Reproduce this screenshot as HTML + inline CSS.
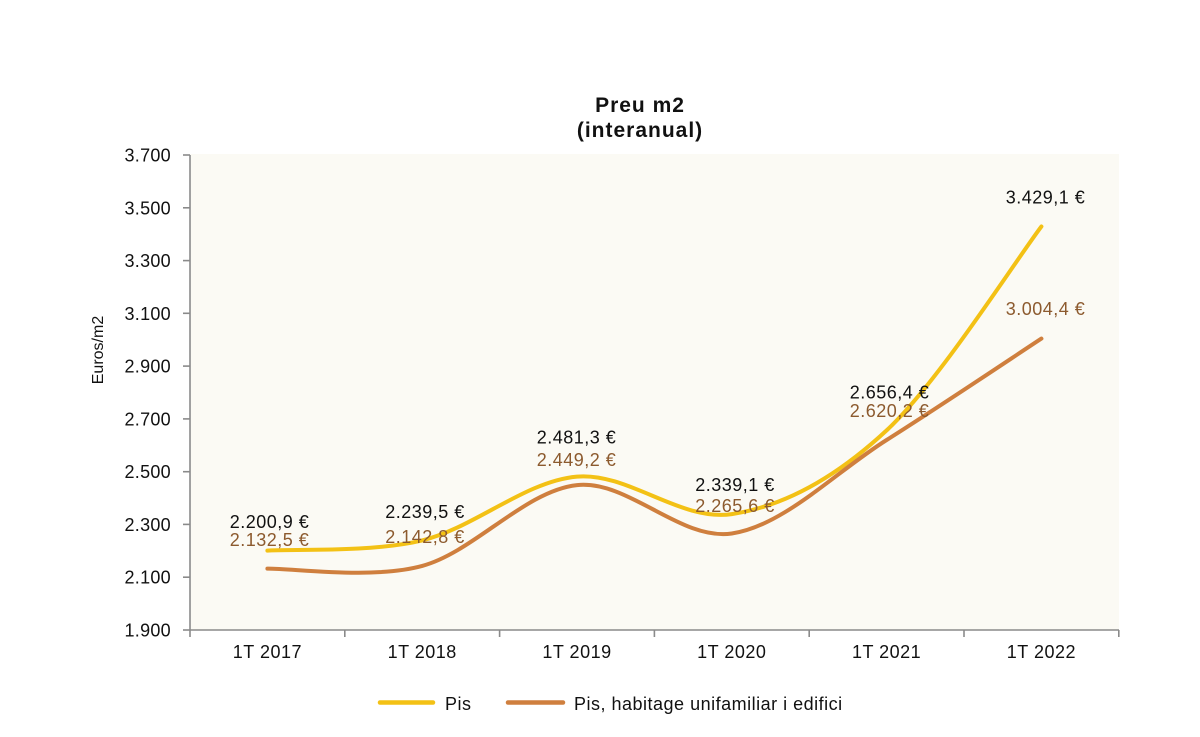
<!DOCTYPE html>
<html>
<head>
<meta charset="utf-8">
<style>
  html,body{margin:0;padding:0;background:#fff;}
  svg{display:block;}
  text{font-family:"Liberation Sans", Arial, sans-serif;}
</style>
</head>
<body>
<svg width="1200" height="737" viewBox="0 0 1200 737" xmlns="http://www.w3.org/2000/svg">
  <rect x="0" y="0" width="1200" height="737" fill="#ffffff"/>
  <!-- plot area -->
  <rect x="190" y="154" width="929" height="476" fill="#fbfaf4"/>

  <!-- title -->
  <text x="640" y="112" text-anchor="middle" font-size="21" font-weight="bold" letter-spacing="1" fill="#111">Preu m2</text>
  <text x="640" y="137" text-anchor="middle" font-size="21" font-weight="bold" letter-spacing="1" fill="#111">(interanual)</text>

  <!-- axes -->
  <g stroke="#8a8a8a" stroke-width="1.6" fill="none">
    <line x1="190" y1="155" x2="190" y2="630"/>
    <line x1="190" y1="630" x2="1119" y2="630"/>
    <!-- y ticks -->
    <line x1="183" y1="155" x2="190" y2="155"/>
    <line x1="183" y1="207.8" x2="190" y2="207.8"/>
    <line x1="183" y1="260.6" x2="190" y2="260.6"/>
    <line x1="183" y1="313.3" x2="190" y2="313.3"/>
    <line x1="183" y1="366.1" x2="190" y2="366.1"/>
    <line x1="183" y1="418.9" x2="190" y2="418.9"/>
    <line x1="183" y1="471.7" x2="190" y2="471.7"/>
    <line x1="183" y1="524.4" x2="190" y2="524.4"/>
    <line x1="183" y1="577.2" x2="190" y2="577.2"/>
    <line x1="183" y1="630" x2="190" y2="630"/>
    <!-- x ticks -->
    <line x1="190" y1="630" x2="190" y2="637"/>
    <line x1="344.8" y1="630" x2="344.8" y2="637"/>
    <line x1="499.6" y1="630" x2="499.6" y2="637"/>
    <line x1="654.4" y1="630" x2="654.4" y2="637"/>
    <line x1="809.2" y1="630" x2="809.2" y2="637"/>
    <line x1="964" y1="630" x2="964" y2="637"/>
    <line x1="1118.8" y1="630" x2="1118.8" y2="637"/>
  </g>

  <!-- y tick labels -->
  <g font-size="18" fill="#111" text-anchor="end" letter-spacing="0.3">
    <text x="171" y="161.5">3.700</text>
    <text x="171" y="214.3">3.500</text>
    <text x="171" y="267.1">3.300</text>
    <text x="171" y="319.8">3.100</text>
    <text x="171" y="372.6">2.900</text>
    <text x="171" y="425.4">2.700</text>
    <text x="171" y="478.2">2.500</text>
    <text x="171" y="530.9">2.300</text>
    <text x="171" y="583.7">2.100</text>
    <text x="171" y="636.5">1.900</text>
  </g>

  <!-- y axis title -->
  <text transform="translate(103,350) rotate(-90)" text-anchor="middle" font-size="16" fill="#111">Euros/m2</text>

  <!-- x labels -->
  <g font-size="18" fill="#111" text-anchor="middle" letter-spacing="0.5">
    <text x="267.4" y="658">1T 2017</text>
    <text x="422.2" y="658">1T 2018</text>
    <text x="577" y="658">1T 2019</text>
    <text x="731.8" y="658">1T 2020</text>
    <text x="886.6" y="658">1T 2021</text>
    <text x="1041.4" y="658">1T 2022</text>
  </g>

  <!-- series: Pis (yellow) -->
  <path d="M267.4,550.6 C293.2,548.9 370.6,552.73 422.2,540.4 C473.8,528.07 525.4,480.98 577,476.6 C628.6,472.22 680.2,521.8 731.8,514.1 C783.4,506.4 835,478.33 886.6,430.4 C938.2,382.47 1015.6,260.48 1041.4,226.5"
        fill="none" stroke="#f3c115" stroke-width="4" stroke-linecap="round" stroke-linejoin="round"/>
  <!-- series: Pis, habitage unifamiliar i edifici (brown) -->
  <path d="M267.4,568.6 C293.2,568.15 370.6,579.82 422.2,565.9 C473.8,551.98 525.4,490.5 577,485.1 C628.6,479.7 680.2,541.02 731.8,533.5 C783.4,525.98 835,472.48 886.6,440.0 C938.2,407.52 1015.6,355.5 1041.4,338.6"
        fill="none" stroke="#cf7f3e" stroke-width="4" stroke-linecap="round" stroke-linejoin="round"/>

  <!-- data labels -->
  <g font-size="18" text-anchor="middle" letter-spacing="0.5">
    <g fill="#111">
      <text x="269.5" y="528">2.200,9 €</text>
      <text x="425" y="518">2.239,5 €</text>
      <text x="576.5" y="443.5">2.481,3 €</text>
      <text x="735" y="491">2.339,1 €</text>
      <text x="889.5" y="398.5">2.656,4 €</text>
      <text x="1045.5" y="203.5">3.429,1 €</text>
    </g>
    <g fill="#8c5a2e">
      <text x="269.5" y="546">2.132,5 €</text>
      <text x="425" y="543">2.142,8 €</text>
      <text x="576.5" y="466">2.449,2 €</text>
      <text x="735" y="512">2.265,6 €</text>
      <text x="889.5" y="417">2.620,2 €</text>
      <text x="1045.5" y="315">3.004,4 €</text>
    </g>
  </g>

  <!-- legend -->
  <line x1="380" y1="702.5" x2="433" y2="702.5" stroke="#f3c115" stroke-width="4.5" stroke-linecap="round"/>
  <text x="445" y="710" font-size="18" fill="#111" letter-spacing="0.5">Pis</text>
  <line x1="508" y1="702.5" x2="563" y2="702.5" stroke="#cf7f3e" stroke-width="4.5" stroke-linecap="round"/>
  <text x="574" y="710" font-size="18" fill="#111" letter-spacing="0.5">Pis, habitage unifamiliar i edifici</text>
</svg>
</body>
</html>
